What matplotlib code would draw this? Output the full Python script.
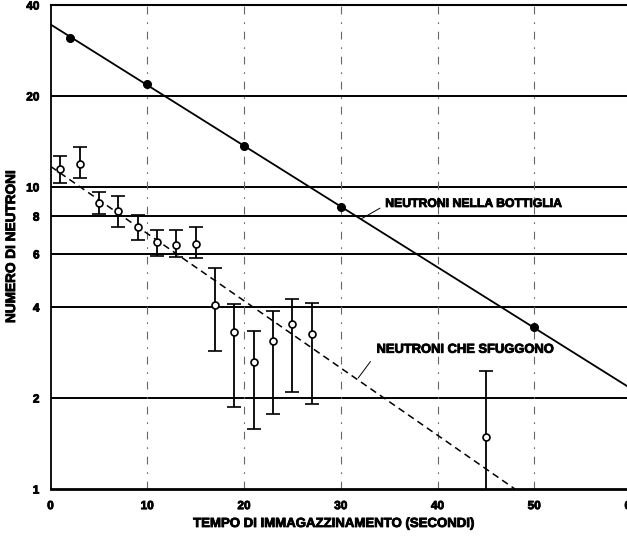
import numpy as np
import matplotlib
matplotlib.use("Agg")
import matplotlib.pyplot as plt
import matplotlib.patheffects as pe

plt.rcParams['font.family'] = ['Liberation Sans', 'DejaVu Sans']
plt.rcParams['font.weight'] = 'bold'

# neutroni nella bottiglia (punti pieni + retta)
bott_x = [2, 10, 20, 30, 50]
bott_y = [31.1, 21.9, 13.7, 8.59, 3.44]
bott_fit_x = [0, 60]
bott_fit_y = [34.5, 2.15]

# neutroni che sfuggono (punti vuoti con barre d'errore + retta tratteggiata)
sfug_x = [1, 3, 5, 7, 9, 11, 13, 15, 17, 19, 21, 23, 25, 27, 45]
sfug_y = [11.45, 11.92, 8.87, 8.33, 7.34, 6.59, 6.41, 6.46, 4.05, 3.31, 2.63, 3.09, 3.51, 3.27, 1.49]
sfug_top = [12.66, 13.54, 9.60, 9.34, 8.10, 7.21, 7.19, 7.34, 5.39, 4.10, 3.34, 3.89, 4.27, 4.14, 2.46]
sfug_bot = [10.33, 10.73, 8.14, 7.36, 6.68, 5.91, 5.88, 5.81, 2.87, 1.87, 1.58, 1.77, 2.10, 1.91, 0.9]
sfug_fit_x = [0, 48]
sfug_fit_y = [11.7, 1.0]

y_ticks = [1, 2, 4, 6, 8, 10, 20, 40]
x_ticks = [0, 10, 20, 30, 40, 50, 60]

heavy = [pe.withStroke(linewidth=0.6, foreground='black')]

fig = plt.figure(figsize=(6.27, 5.36), dpi=100)
ax = fig.add_axes([50.5 / 627, 47 / 536, 580.5 / 627, 484 / 536])
ax.set_yscale('log')
ax.set_xlim(0, 60)
ax.set_ylim(1, 40)

# griglia
for v in y_ticks[1:-1]:
    ax.axhline(v, color='black', lw=1.4, zorder=1)
for v in x_ticks[1:-1]:
    ax.axvline(v, color='0.4', lw=0.8, ls=(0, (7, 7, 1.5, 7)), zorder=1)

ax.plot(bott_fit_x, bott_fit_y, color='black', lw=1.3, zorder=2)
ax.plot(bott_x, bott_y, 'o', color='black', ms=5.5, zorder=4)

ax.plot(sfug_fit_x, sfug_fit_y, color='black', lw=1.1, ls=(0, (4.5, 3)), zorder=2)
sy = np.array(sfug_y)
yerr = [sy - np.array(sfug_bot), np.array(sfug_top) - sy]
ax.errorbar(sfug_x, sfug_y, yerr=yerr, fmt='o', color='black', mfc='white', mec='black',
            ms=5, mew=1.2, elinewidth=1.3, capsize=5, capthick=1.5, zorder=4)

ax.annotate('NEUTRONI NELLA BOTTIGLIA', xy=(32.1, 7.83), xytext=(34.6, 8.78),
            fontsize=8.8, fontweight='bold', va='center', ha='left', path_effects=heavy,
            arrowprops=dict(arrowstyle='-', lw=0.7, color='black', shrinkA=2, shrinkB=0,
                            relpos=(0, 0.4)))
ax.annotate('NEUTRONI CHE SFUGGONO', xy=(31.8, 2.33), xytext=(33.7, 2.89),
            fontsize=9.3, fontweight='bold', va='center', ha='left', path_effects=heavy,
            arrowprops=dict(arrowstyle='-', lw=0.7, color='black', shrinkA=4, shrinkB=0,
                            relpos=(0, 0.2)))

ax.set_yticks(y_ticks)
ax.set_yticklabels([str(v) for v in y_ticks])
ax.yaxis.set_minor_locator(matplotlib.ticker.NullLocator())
ax.set_xticks(x_ticks)
ax.tick_params(axis='both', length=0, labelsize=8.5)
ax.tick_params(axis='y', pad=8)
ax.tick_params(axis='x', pad=8)
for lab in ax.get_xticklabels() + ax.get_yticklabels():
    lab.set_path_effects(heavy)

ax.spines['right'].set_visible(False)
ax.spines['left'].set_linewidth(1.3)
ax.spines['top'].set_linewidth(1.5)
ax.spines['bottom'].set_linewidth(2)

fig.text(334 / 627, 1 - 524 / 536, 'TEMPO DI IMMAGAZZINAMENTO (SECONDI)', ha='center', va='center',
         fontsize=9.5, fontweight='bold', path_effects=heavy)
fig.text(11 / 627, 1 - 247 / 536, 'NUMERO DI NEUTRONI', ha='center', va='center', rotation=90,
         fontsize=9.8, fontweight='bold', path_effects=heavy)

fig.savefig('out.png', dpi=100)
